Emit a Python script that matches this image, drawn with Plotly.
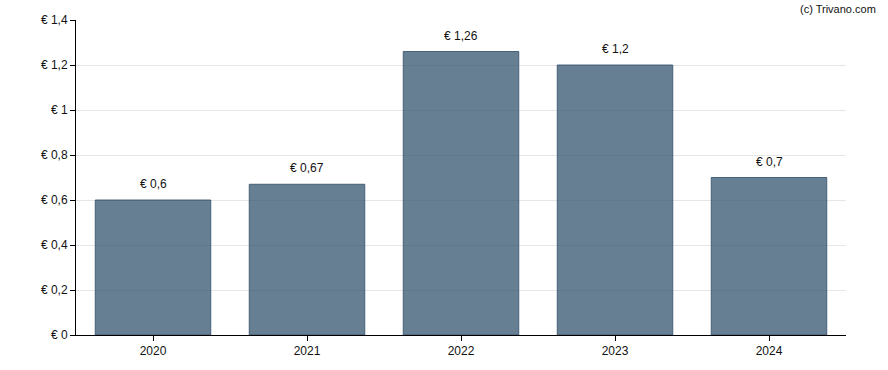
import plotly.graph_objects as go

years = ["2020", "2021", "2022", "2023", "2024"]
values = [0.6, 0.67, 1.26, 1.2, 0.7]
tick_vals = [0, 0.2, 0.4, 0.6, 0.8, 1.0, 1.2, 1.4]
tick_text = ["€ 0", "€ 0,2", "€ 0,4", "€ 0,6", "€ 0,8", "€ 1", "€ 1,2", "€ 1,4"]
labels = ["€ " + ("%g" % v).replace(".", ",") for v in values]

fig = go.Figure()
fig.add_trace(go.Bar(
    x=years, y=values,
    marker=dict(color="rgba(52,84,110,0.75)", line=dict(color="rgba(52,84,110,0.85)", width=1)),
    hoverinfo="skip",
))
for i, (y, t) in enumerate(zip(values, labels)):
    fig.add_annotation(x=i, y=y, text=t, showarrow=False, yanchor="bottom", yshift=7,
                       font=dict(size=12, color="#111", family="Liberation Sans, Arial, sans-serif"))
fig.add_annotation(xref="paper", yref="paper", x=1.0415, y=1.035, text="(c) Trivano.com",
                   showarrow=False, xanchor="right", yanchor="middle",
                   font=dict(size=11, color="#111", family="Liberation Sans, Arial, sans-serif"))

fig.update_layout(
    width=888, height=370,
    margin=dict(l=76, r=42, t=20, b=35, autoexpand=False),
    plot_bgcolor="white", paper_bgcolor="white",
    bargap=0.25, showlegend=False,
    font=dict(family="Liberation Sans, Arial, sans-serif", size=12, color="#111"),
    xaxis=dict(type="category", range=[-0.5, 4.5], showline=True, linecolor="black", linewidth=1,
               ticks="outside", ticklen=5, tickcolor="black", showgrid=False, tickfont=dict(size=12)),
    yaxis=dict(range=[0, 1.4], tickvals=tick_vals, ticktext=tick_text, showline=True,
               linecolor="black", linewidth=1, ticks="outside", ticklen=5, tickcolor="black",
               showgrid=True, gridcolor="#e6e6e6", gridwidth=1, zeroline=False,
               tickfont=dict(size=12)),
)
fig.write_html("out.html", config={"displayModeBar": False},
               post_script="document.body.style.margin='0';")
